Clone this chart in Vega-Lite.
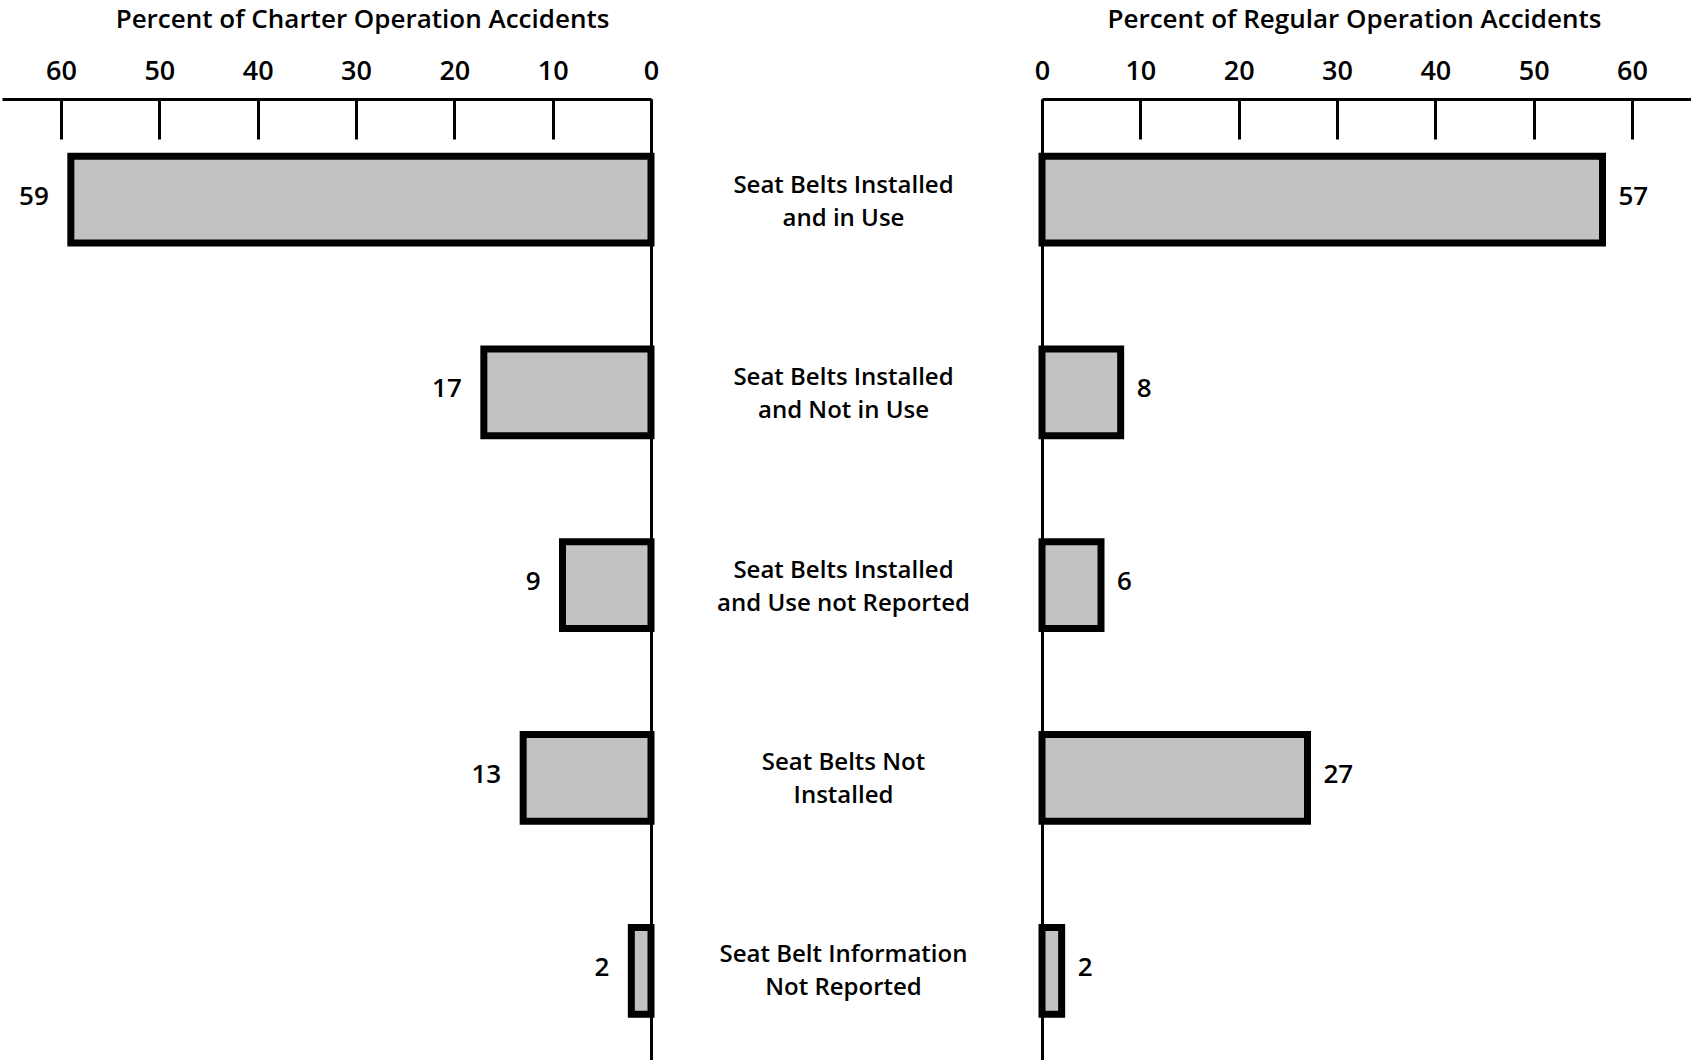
{
  "$schema": "https://vega.github.io/schema/vega-lite/v6.json",
  "background": "white",
  "autosize": {"type": "pad"},
  "padding": {"left": 2, "top": 6, "right": 0, "bottom": 0},
  "spacing": 0,
  "bounds": "flush",
  "config": {
    "view": {"stroke": null},
    "axis": {
      "domainColor": "black", "domainWidth": 3,
      "tickColor": "black", "tickWidth": 3,
      "labelColor": "black", "titleColor": "black",
      "labelFont": "Open Sans", "titleFont": "Open Sans",
      "grid": false
    }
  },
  "data": {
    "values": [
      {"label": "Seat Belts Installed\nand in Use", "charter": 59, "regular": 57},
      {"label": "Seat Belts Installed\nand Not in Use", "charter": 17, "regular": 8},
      {"label": "Seat Belts Installed\nand Use not Reported", "charter": 9, "regular": 6},
      {"label": "Seat Belts Not\nInstalled", "charter": 13, "regular": 27},
      {"label": "Seat Belt Information\nNot Reported", "charter": 2, "regular": 2}
    ]
  },
  "hconcat": [
    {
      "width": 649,
      "height": 962,
      "encoding": {
        "y": {
          "field": "label", "type": "nominal", "sort": null,
          "scale": {"paddingInner": 0.55, "paddingOuter": 0.27, "align": 0.55},
          "axis": {"orient": "right", "domain": true, "ticks": false, "labels": false, "title": null}
        },
        "x": {
          "field": "charter", "type": "quantitative",
          "scale": {"domain": [0, 66], "reverse": true, "nice": false, "zero": true},
          "axis": {
            "orient": "top", "values": [0, 10, 20, 30, 40, 50, 60],
            "tickSize": -40, "labelPadding": 54, "labelFontSize": 27, "labelFontWeight": 600,
            "labelFlush": false,
            "title": "Percent of Charter Operation Accidents",
            "titleFontSize": 26, "titleFontWeight": 600, "titlePadding": 25, "titleX": 360
          }
        }
      },
      "layer": [
        {"mark": {"type": "bar", "fill": "#c2c2c2", "stroke": "black", "strokeWidth": 7}},
        {
          "mark": {"type": "text", "align": "right", "baseline": "middle", "dx": -22, "dy": -3, "fontSize": 26, "fontWeight": 600, "font": "Open Sans", "color": "black"},
          "encoding": {"text": {"field": "charter", "type": "quantitative"}}
        }
      ]
    },
    {
      "width": 391,
      "height": 962,
      "mark": {"type": "text", "align": "center", "baseline": "middle", "lineBreak": "\n", "lineHeight": 33, "dy": -19, "dx": -3, "fontSize": 24, "letterSpacing": 2, "fontWeight": 600, "font": "Open Sans", "color": "black"},
      "encoding": {
        "y": {
          "field": "label", "type": "nominal", "sort": null,
          "scale": {"paddingInner": 0.55, "paddingOuter": 0.27, "align": 0.55},
          "axis": null
        },
        "text": {"field": "label", "type": "nominal"}
      }
    },
    {
      "width": 649,
      "height": 962,
      "encoding": {
        "y": {
          "field": "label", "type": "nominal", "sort": null,
          "scale": {"paddingInner": 0.55, "paddingOuter": 0.27, "align": 0.55},
          "axis": {"orient": "left", "domain": true, "ticks": false, "labels": false, "title": null}
        },
        "x": {
          "field": "regular", "type": "quantitative",
          "scale": {"domain": [0, 66], "nice": false, "zero": true},
          "axis": {
            "orient": "top", "values": [0, 10, 20, 30, 40, 50, 60],
            "tickSize": -40, "labelPadding": 54, "labelFontSize": 27, "labelFontWeight": 600,
            "labelFlush": false,
            "title": "Percent of Regular Operation Accidents",
            "titleFontSize": 26, "titleFontWeight": 600, "titlePadding": 25, "titleX": 312
          }
        }
      },
      "layer": [
        {"mark": {"type": "bar", "fill": "#c2c2c2", "stroke": "black", "strokeWidth": 7}},
        {
          "mark": {"type": "text", "align": "left", "baseline": "middle", "dx": 16, "dy": -3, "fontSize": 26, "fontWeight": 600, "font": "Open Sans", "color": "black"},
          "encoding": {"text": {"field": "regular", "type": "quantitative"}}
        }
      ]
    }
  ]
}
